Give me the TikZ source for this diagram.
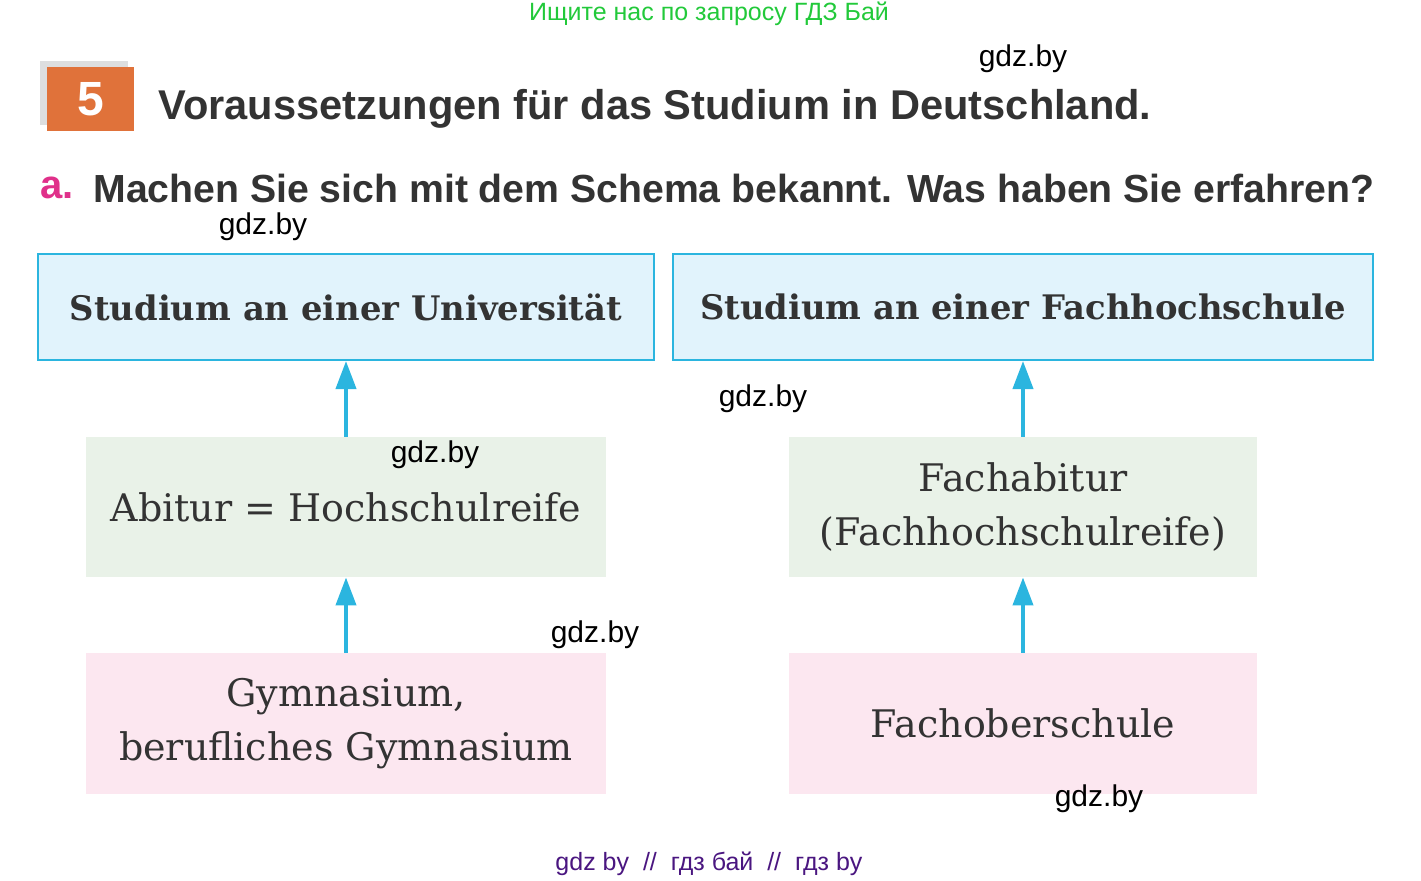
\documentclass[tikz,border=0pt]{standalone}
\usepackage{fontspec}
\setmainfont{DejaVu Serif}
\newfontfamily\headfont{Liberation Sans}
\usetikzlibrary{arrows.meta}
\definecolor{txtgray}{HTML}{333333}
\definecolor{skyline}{HTML}{2BB5DF}
\definecolor{skyfill}{HTML}{E1F3FC}
\definecolor{mintfill}{HTML}{E9F2E8}
\definecolor{rosefill}{HTML}{FCE7F0}
\definecolor{numorange}{HTML}{E0723A}
\definecolor{numgray}{HTML}{DDDEDF}
\definecolor{amagenta}{HTML}{E0308A}
\definecolor{wmgreen}{HTML}{22C93A}
\definecolor{wmpurple}{HTML}{4A1680}

\begin{document}
\begin{tikzpicture}[x=0.5pt,y=-0.5pt,
    box/.style={inner sep=0pt, align=center, text=txtgray, font=\fontsize{19}{27}\selectfont},
    topbox/.style={box, draw=skyline, line width=1pt, fill=skyfill, minimum height=53pt, font=\bfseries\fontsize{16.9}{27}\selectfont},
    midbox/.style={box, fill=mintfill, minimum height=70pt},
    lowbox/.style={box, fill=rosefill, minimum height=70.5pt},
    uparrow/.style={-{Triangle[length=14pt,width=10pt]}, draw=skyline, line width=2pt},
    wm/.style={inner sep=0pt, font=\headfont\fontsize{15}{15}\selectfont}]
  \useasboundingbox (0,0) rectangle (1421,880);
  % header
  \node[inner sep=0pt, text=wmgreen, font=\headfont\fontsize{12.5}{12.5}\selectfont] (search) at (709,14) {Ищите нас по запросу ГДЗ Бай};
  \fill[numgray] (40,61) rectangle (128,125);
  \node[fill=numorange, minimum width=43.5pt, minimum height=32pt, inner sep=0pt, text=white,
        font=\headfont\bfseries\fontsize{24}{24}\selectfont] (num) at (90.5,99) {5};
  \node[anchor=west, inner sep=0pt, text=txtgray, font=\headfont\bfseries\fontsize{20.8}{20.8}\selectfont] (title) at (158,109)
    {Voraussetzungen für das Studium in Deutschland.};
  \node[anchor=west, inner sep=0pt, text=amagenta, font=\headfont\bfseries\fontsize{20}{20}\selectfont] (part) at (40,188) {a.};
  \node[anchor=west, inner sep=0pt, text=txtgray, font=\headfont\bfseries\fontsize{19.6}{19.6}\selectfont] (task) at (93,188)
    {Machen Sie sich mit dem Schema bekannt. Was haben Sie erfahren?};

  % schema
  \node[topbox, minimum width=308pt] (uni) at (346,307) {Studium an einer Universität};
  \node[topbox, minimum width=350pt] (fh) at (1023,307) {Studium an einer Fachhochschule};
  \node[midbox, minimum width=260pt] (abi) at (346,507) {Abitur = Hochschulreife};
  \node[midbox, minimum width=234pt] (fabi) at (1023,507) {Fachabitur\\(Fachhochschulreife)};
  \node[lowbox, minimum width=260pt] (gym) at (346,723.5) {Gymnasium,\\berufliches Gymnasium};
  \node[lowbox, minimum width=234pt] (fos) at (1023,723.5) {Fachoberschule};
  \draw[uparrow] (abi) -- (uni);
  \draw[uparrow] (fabi) -- (fh);
  \draw[uparrow] (gym) -- (abi);
  \draw[uparrow] (fos) -- (fabi);

  % watermarks
  \node[wm] (wm1) at (1023,59) {gdz.by};
  \node[wm] (wm2) at (263,227) {gdz.by};
  \node[wm] (wm3) at (763,399) {gdz.by};
  \node[wm] (wm4) at (435,455) {gdz.by};
  \node[wm] (wm5) at (595,635) {gdz.by};
  \node[wm] (wm6) at (1099,799) {gdz.by};
  \node[inner sep=0pt, text=wmpurple, font=\headfont\fontsize{12.5}{12.5}\selectfont] (foot) at (709,864)
    {gdz by\ \ //\ \ гдз бай\ \ //\ \ гдз by};
\end{tikzpicture}
\end{document}
